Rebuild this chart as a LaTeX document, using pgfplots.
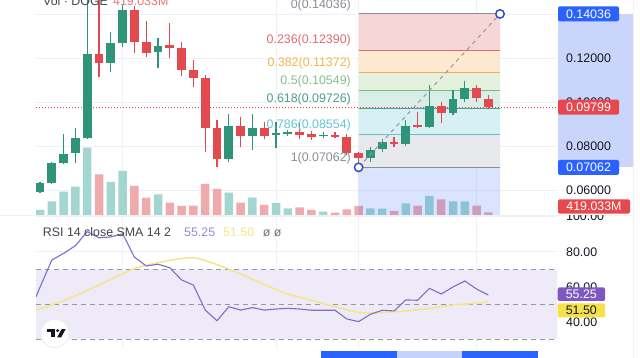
\documentclass[border=0pt]{standalone}
\usepackage{pgfplots}
\pgfplotsset{compat=1.18}
\usepackage{pgfplotstable}
\usepackage{fontspec}
\setmainfont{Liberation Sans}

\definecolor{cg}{HTML}{2F9479}
\definecolor{cr}{HTML}{E24A50}
\definecolor{vg}{HTML}{A3D6D0}
\definecolor{vr}{HTML}{EFABAB}
\definecolor{gridc}{HTML}{EFF1F6}
\definecolor{bandc}{HTML}{EEEAF7}
\definecolor{dashc}{HTML}{9598A1}
\definecolor{rsic}{HTML}{7E6EC6}
\definecolor{smac}{HTML}{F5E58A}
\definecolor{f0}{HTML}{F7D6D8}
\definecolor{f1}{HTML}{FDE9D0}
\definecolor{f2}{HTML}{E3F1DD}
\definecolor{f3}{HTML}{D9EEE6}
\definecolor{f4}{HTML}{D7F0F4}
\definecolor{f5}{HTML}{E8E9EC}
\definecolor{l0}{HTML}{8A8D96}
\definecolor{l1}{HTML}{DC6A6E}
\definecolor{l2}{HTML}{F2AE55}
\definecolor{l3}{HTML}{7DB97F}
\definecolor{l4}{HTML}{4E9F8F}
\definecolor{l5}{HTML}{62C2D3}
\definecolor{tl1}{HTML}{E06C70}
\definecolor{tl2}{HTML}{F5B54D}
\definecolor{tl3}{HTML}{86C088}
\definecolor{tl4}{HTML}{4B9F8E}
\definecolor{tl5}{HTML}{62C6D8}
\definecolor{pblue}{HTML}{2962FF}
\definecolor{colc}{HTML}{CAD5FB}
\definecolor{pricered}{HTML}{E5484D}
\definecolor{pcol}{HTML}{7E57C2}
\definecolor{ycol}{HTML}{F5E24A}
\definecolor{txt}{HTML}{131722}
\definecolor{tlight}{HTML}{C5D3FB}
\definecolor{circc}{HTML}{2F4FD0}
\definecolor{diagc}{HTML}{9598A1}

\newcommand\lbl{\fontsize{12.4}{14}\selectfont}

\pgfplotstableread{
n o h l c
0 0.0594 0.0641 0.0591 0.0635
1 0.0635 0.0729 0.0629 0.0726
2 0.0725 0.0856 0.0723 0.0767
3 0.0770 0.0886 0.0727 0.0838
4 0.0841 0.1466 0.0835 0.1220
6 0.1179 0.1320 0.1141 0.1270
7 0.1270 0.1445 0.1255 0.1421
10 0.1229 0.1293 0.1156 0.1259
16 0.0744 0.0947 0.0732 0.0895
18 0.0850 0.0947 0.0785 0.0884
20 0.0852 0.0914 0.0793 0.0861
21 0.0859 0.0876 0.0850 0.0868
24 0.0849 0.0868 0.0840 0.0853
28 0.0747 0.0800 0.0732 0.0785
29 0.0790 0.0834 0.0777 0.0820
31 0.0812 0.0921 0.0805 0.0894
33 0.0891 0.1080 0.0884 0.0985
35 0.0952 0.1058 0.0944 0.1015
36 0.1017 0.1099 0.1005 0.1065
}\greentab

\pgfplotstableread{
n o h l c
5 0.1220 0.1466 0.1115 0.1179
8 0.1421 0.1440 0.1225 0.1277
9 0.1277 0.1373 0.1206 0.1227
11 0.1262 0.1361 0.1202 0.1247
12 0.1247 0.1277 0.1121 0.1149
13 0.1149 0.1194 0.1070 0.1114
14 0.1111 0.1126 0.0777 0.0884
15 0.0884 0.0921 0.0709 0.0744
17 0.0895 0.0936 0.0800 0.0850
19 0.0884 0.0914 0.0834 0.0850
22 0.0868 0.0906 0.0834 0.0853
23 0.0856 0.0871 0.0830 0.0845
25 0.0853 0.0866 0.0840 0.0843
26 0.0845 0.0856 0.0762 0.0770
27 0.0770 0.0777 0.0712 0.0747
30 0.0823 0.0845 0.0800 0.0811
32 0.0899 0.0959 0.0884 0.0888
34 0.0985 0.1005 0.0906 0.0952
37 0.1065 0.1080 0.1005 0.1020
38 0.1015 0.1035 0.0970 0.0980
}\redtab

\pgfplotstableread{
n v
0 775
1 2124
2 3612
3 4387
4 10432
6 5115
7 6820
10 3209
16 3457
18 2682
20 1860
21 1008
24 512
28 1039
29 977
31 1814
33 2945
35 2124
36 2124
}\volgreen

\pgfplotstableread{
n v
5 6309
8 4495
9 2682
11 1907
12 1395
13 1442
14 4805
15 4030
17 1907
19 1550
22 1194
23 775
25 357
26 884
27 1395
30 620
32 1442
34 2434
37 1442
38 419.033
}\volred

\pgfplotstableread{
n r
-0.339 54.3
0 59.7
1 75.3
2 79.1
3 83.5
4 91.5
5 88.0
6 88.5
7 90.3
8 77.0
9 71.9
10 72.9
11 70.9
12 63.9
13 61.0
14 46.7
15 40.6
16 48.6
17 46.7
18 48.1
19 46.7
20 47.3
21 47.7
22 47.3
23 46.6
24 46.6
25 46.6
26 41.6
27 40.1
28 44.3
29 46.6
30 46.2
31 52.5
32 52.3
33 59.1
34 55.9
35 59.9
36 63.3
37 58.7
38 55.25
}\rsitab

\pgfplotstableread{
n s
-0.339 46.7
1.13 50.0
2.82 54.3
4.81 60.5
6.78 66.7
8.19 70.9
10.17 74.0
11.58 75.7
12.99 76.6
14.13 74.7
15.82 70.6
17.80 64.9
19.77 59.1
21.2 55.5
22.9 52.5
25.0 48.6
27.0 45.4
28.0 44.9
29.0 45.4
31.0 46.2
33.0 47.7
35.0 49.6
37.0 50.6
38.0 51.5
}\smatab

\pgfplotsset{pane/.style={anchor=south west, scale only axis, width=521pt,
  xmin=-0.339, xmax=43.81, axis line style={draw=none}, tick style={draw=none},
  xticklabels={}, yticklabels={}, scaled x ticks=false, scaled y ticks=false,
  clip=true},
  candle/.style={only marks, mark=*, mark size=0pt, mark options={draw=none, fill=none},
  error bars/.cd, y dir=plus, y explicit, error mark=none,
  error bar style={line width=#1}}}

\begin{document}
\begin{tikzpicture}
\fill[white] (0pt,0pt) rectangle (640pt,358pt);

% price-scale highlight column
\fill[colc] (558pt,190.7pt) rectangle (633pt,344.1pt);

% volume pane (behind)
\begin{axis}[pane, at={(36pt,142.5pt)}, height=215.5pt, ymin=-77.5, ymax=33325,
  xtick={7,20,27,37}, ytick={3767,10587,17407,24227,31047},
  grid=major, grid style={gridc, line width=0.7pt}]
\addplot[ybar, bar width=8.5pt, bar shift=0pt, fill=vg, draw=none] table[x=n,y=v] {\volgreen};
\addplot[ybar, bar width=8.5pt, bar shift=0pt, fill=vr, draw=none] table[x=n,y=v] {\volred};
\end{axis}

% price pane
\begin{axis}[pane, at={(36pt,142.5pt)}, height=215.5pt, ymin=0.048727, ymax=0.146682,
  xtick=\empty, ytick=\empty]
% fib zones
\addplot[fill=f0, draw=none] coordinates {(27,0.12390)(38.98,0.12390)(38.98,0.14036)(27,0.14036)(27,0.12390)};
\addplot[fill=f1, draw=none] coordinates {(27,0.11372)(38.98,0.11372)(38.98,0.12390)(27,0.12390)(27,0.11372)};
\addplot[fill=f2, draw=none] coordinates {(27,0.10549)(38.98,0.10549)(38.98,0.11372)(27,0.11372)(27,0.10549)};
\addplot[fill=f3, draw=none] coordinates {(27,0.09726)(38.98,0.09726)(38.98,0.10549)(27,0.10549)(27,0.09726)};
\addplot[fill=f4, draw=none] coordinates {(27,0.08554)(38.98,0.08554)(38.98,0.09726)(27,0.09726)(27,0.08554)};
\addplot[fill=f5, draw=none] coordinates {(27,0.07062)(38.98,0.07062)(38.98,0.08554)(27,0.08554)(27,0.07062)};
\addplot[fill=pblue, fill opacity=0.17, draw=none] coordinates {(27,0.048727)(38.98,0.048727)(38.98,0.07062)(27,0.07062)(27,0.048727)};
\addplot[l0, line width=1pt] coordinates {(27,0.14036)(38.98,0.14036)};
\addplot[l1, line width=1pt] coordinates {(27,0.12390)(38.98,0.12390)};
\addplot[l2, line width=1pt] coordinates {(27,0.11372)(38.98,0.11372)};
\addplot[l3, line width=1pt] coordinates {(27,0.10549)(38.98,0.10549)};
\addplot[l4, line width=1pt] coordinates {(27,0.09726)(38.98,0.09726)};
\addplot[l5, line width=1pt] coordinates {(27,0.08554)(38.98,0.08554)};
\addplot[l0, line width=1pt] coordinates {(27,0.07062)(38.98,0.07062)};
% current price line
\addplot[pricered, line width=0.8pt, dash pattern=on 1pt off 2pt] coordinates {(-0.339,0.09799)(43.81,0.09799)};
% candles: wicks
\addplot[candle=1.2pt, error bar style={draw=cg}] table[x=n, y=l, y error expr=\thisrow{h}-\thisrow{l}] {\greentab};
\addplot[candle=1.2pt, error bar style={draw=cr}] table[x=n, y=l, y error expr=\thisrow{h}-\thisrow{l}] {\redtab};
% candles: bodies
\addplot[candle=8.7pt, error bar style={draw=cg}] table[x=n, y=o, y error expr={max(\thisrow{c}-\thisrow{o},0.0005)}] {\greentab};
\addplot[candle=8.7pt, error bar style={draw=cr}] table[x=n, y=c, y error expr={max(\thisrow{o}-\thisrow{c},0.0005)}] {\redtab};
% fib trend line
\addplot[diagc, line width=1pt, dash pattern=on 4pt off 4pt] coordinates {(27,0.07062)(38.98,0.14036)};
\addplot[only marks, mark=*, mark size=4.2pt, mark options={fill=white, draw=circc, line width=1.5pt}] coordinates {(27,0.07062)(38.98,0.14036)};
\end{axis}

% RSI pane
\begin{axis}[pane, at={(36pt,9pt)}, height=133.5pt, ymin=24.457, ymax=100.743,
  xtick={7,20,27,37}, ytick={40,60,80,100}, grid=major, grid style={gridc, line width=0.7pt}]
\addplot[fill=bandc, draw=none] coordinates {(-0.339,30)(43.81,30)(43.81,70)(-0.339,70)(-0.339,30)};
\addplot[dashc, line width=0.9pt, dash pattern=on 5pt off 4pt] coordinates {(-0.339,70)(43.81,70)};
\addplot[dashc, line width=0.9pt, dash pattern=on 5pt off 4pt] coordinates {(-0.339,50)(43.81,50)};
\addplot[dashc, line width=0.9pt, dash pattern=on 5pt off 4pt] coordinates {(-0.339,30)(43.81,30)};
\addplot[smac, line width=1.5pt, smooth] table[x=n,y=s] {\smatab};
\addplot[rsic, line width=1.1pt] table[x=n,y=r] {\rsitab};
\end{axis}

% pane separator and right border
\draw[gridc, line width=0.8pt] (0pt,142.5pt) -- (633.5pt,142.5pt);
\draw[gridc, line width=0.8pt] (633.5pt,0pt) -- (633.5pt,358pt);

% fib labels
\node[anchor=east, inner sep=0, text=l0, font=\lbl] at (351pt,352.6pt) {0(0.14036)};
\node[anchor=east, inner sep=0, text=tl1, font=\lbl] at (351pt,317.4pt) {0.236(0.12390)};
\node[anchor=east, inner sep=0, text=tl2, font=\lbl] at (351pt,295.0pt) {0.382(0.11372)};
\node[anchor=east, inner sep=0, text=tl3, font=\lbl] at (351pt,276.9pt) {0.5(0.10549)};
\node[anchor=east, inner sep=0, text=tl4, font=\lbl] at (351pt,258.8pt) {0.618(0.09726)};
\node[anchor=east, inner sep=0, text=tl5, font=\lbl] at (351pt,233.0pt) {0.786(0.08554)};
\node[anchor=east, inner sep=0, text=l0, font=\lbl] at (351pt,200.2pt) {1(0.07062)};

% legends (top one cut by the page edge)
\begin{scope}
\clip (0pt,300pt) rectangle (640pt,358pt);
\node[anchor=base west, inner sep=0, text=txt!80, font=\lbl] at (43pt,352pt) {Vol · DOGE};
\node[anchor=base west, inner sep=0, text=pricered!75, font=\lbl] at (113pt,352pt) {419.033M};
\end{scope}
\node[anchor=base west, inner sep=0, text=txt!80, font=\lbl] at (42.7pt,121.3pt) {RSI 14 close SMA 14 2};
\node[anchor=base west, inner sep=0, text=rsic!80, font=\lbl] at (184pt,121.3pt) {55.25};
\node[anchor=base west, inner sep=0, text=smac, font=\lbl] at (223pt,121.3pt) {51.50};
\node[anchor=base west, inner sep=0, text=txt!60, font=\lbl] at (262.7pt,121.3pt) {ø ø};

% price scale labels
\node[anchor=west, inner sep=0, text=txt, font=\lbl] at (566pt,299.3pt) {0.12000};
\node[anchor=west, inner sep=0, text=txt, font=\lbl] at (566pt,255.3pt) {0.10000};
\node[anchor=west, inner sep=0, text=txt, font=\lbl] at (566pt,211.3pt) {0.08000};
\node[anchor=west, inner sep=0, text=txt, font=\lbl] at (566pt,167.3pt) {0.06000};
\fill[pblue, rounded corners=1.5pt] (558pt,336.6pt) rectangle (619pt,351.6pt);
\node[text=white, font=\lbl, inner sep=0] at (588.5pt,344.1pt) {0.14036};
\fill[pricered, rounded corners=1.5pt] (558pt,243.4pt) rectangle (619pt,258.4pt);
\node[text=white, font=\lbl, inner sep=0] at (588.5pt,250.9pt) {0.09799};
\fill[pblue, rounded corners=1.5pt] (558pt,183.2pt) rectangle (619pt,198.2pt);
\node[text=white, font=\lbl, inner sep=0] at (588.5pt,190.7pt) {0.07062};

% RSI scale labels
\begin{scope}
\clip (540pt,0pt) rectangle (640pt,142.5pt);
\node[anchor=west, inner sep=0, text=txt, font=\lbl] at (566pt,142.0pt) {100.00};
\end{scope}
\node[anchor=west, inner sep=0, text=txt, font=\lbl] at (566pt,106.2pt) {80.00};
\node[anchor=west, inner sep=0, text=txt, font=\lbl] at (566pt,71.2pt) {60.00};
\node[anchor=west, inner sep=0, text=txt, font=\lbl] at (566pt,36.2pt) {40.00};
\fill[pricered, rounded corners=1.5pt] (558pt,144.3pt) rectangle (630pt,158.7pt);
\node[text=white, font=\lbl, inner sep=0] at (594pt,151.5pt) {419.033M};
\fill[pcol, rounded corners=1.5pt] (557.7pt,57pt) rectangle (605pt,70.5pt);
\node[text=white, font=\lbl, inner sep=0] at (581.3pt,63.7pt) {55.25};
\fill[ycol, rounded corners=1.5pt] (557.7pt,40.5pt) rectangle (605pt,54.5pt);
\node[text=txt, font=\lbl, inner sep=0] at (581.3pt,47.5pt) {51.50};

% time axis highlight
\fill[pblue] (320.7pt,0pt) rectangle (396.7pt,7pt);
\fill[tlight] (396.7pt,0pt) rectangle (462.3pt,7pt);
\fill[pblue] (462.3pt,0pt) rectangle (538.3pt,7pt);

% TradingView logo
\fill[black!6] (55pt,24.2pt) circle (14.3pt);
\fill[white] (55pt,24.7pt) circle (13.5pt);
\fill[txt] (46.7pt,26.0pt) rectangle (55pt,28.9pt);
\fill[txt] (50.8pt,20.7pt) rectangle (54.6pt,28.9pt);
\fill[txt] (57.6pt,27.3pt) circle (1.6pt);
\fill[txt] (57.2pt,20.7pt) -- (61.2pt,20.7pt) -- (65.6pt,28.9pt) -- (61.6pt,28.9pt) -- cycle;

\pgfresetboundingbox
\path[use as bounding box] (0pt,0pt) rectangle (640pt,358pt);
\end{tikzpicture}
\end{document}
